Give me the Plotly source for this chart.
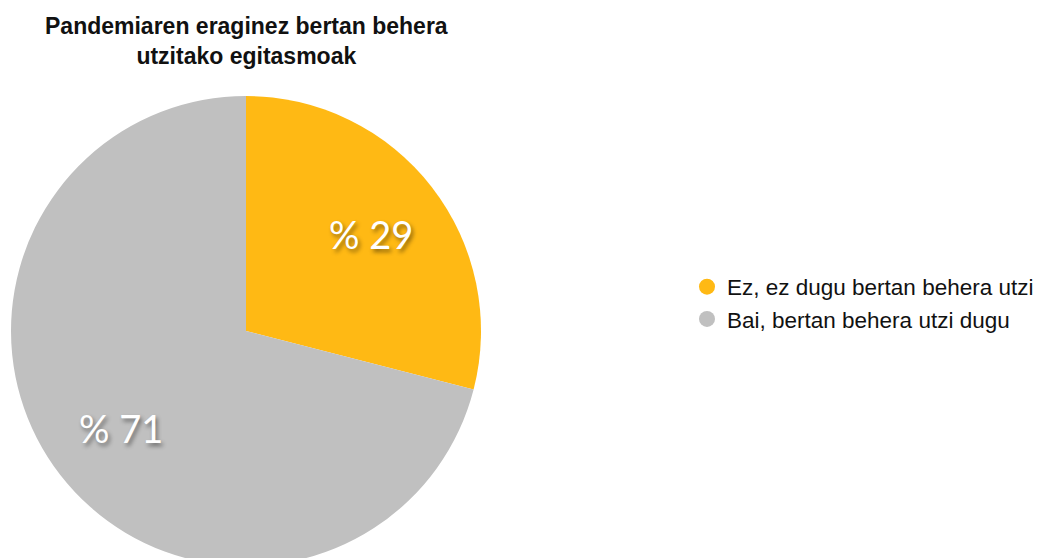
import math
import plotly.graph_objects as go

categories = ["Ez, ez dugu bertan behera utzi", "Bai, bertan behera utzi dugu"]
values = [29, 71]
colors = ["#FFB914", "#C0C0C0"]
title_lines = ["Pandemiaren eraginez bertan behera", "utzitako egitasmoak"]

W, H = 1059, 570
L, R, T, B = 11, 0, 96, 4
plot_w, plot_h = W - L - R, H - T - B
pie_d = 470  # pie diameter in px

fig = go.Figure()
fig.add_trace(go.Pie(
    labels=categories, values=values, sort=False, direction="clockwise", rotation=0,
    marker=dict(colors=colors, line=dict(width=0)),
    textinfo="none",
    domain=dict(x=[0, pie_d / plot_w], y=[0, 1]),
    showlegend=False, hoverinfo="label+percent",
))
for cat, col in zip(categories, colors):
    fig.add_trace(go.Scatter(x=[None], y=[None], mode="markers", name=cat,
                             marker=dict(color=col, size=20, symbol="circle")))

# value labels placed along each slice's mid-angle
annotations = []
total = sum(values)
cum = 0
cx, cy = pie_d / 2 / plot_w, 0.5  # paper coords of the pie centre
for v in values:
    frac = (cum + v / 2) / total
    cum += v
    th = 2 * math.pi * frac
    r_px = 0.675 * pie_d / 2
    annotations.append(dict(
        text=f"% {v}", x=cx + r_px * math.sin(th) / plot_w, y=cy + r_px * math.cos(th) / plot_h,
        xref="paper", yref="paper", showarrow=False, xanchor="center", yanchor="middle",
        font=dict(family="Lato", size=38, color="white", shadow="2px 3px 4px rgba(0,0,0,0.45)"),
    ))
annotations.append(dict(
    text="<br>".join(title_lines), x=cx, y=1, xref="paper", yref="paper",
    xanchor="center", yanchor="bottom", yshift=25, showarrow=False,
    font=dict(family="Liberation Sans", size=23, color="#111", weight=600)))

fig.update_layout(
    width=W, height=H,
    margin=dict(l=L, r=R, t=T, b=B),
    paper_bgcolor="white", plot_bgcolor="white",
    xaxis=dict(visible=False), yaxis=dict(visible=False),
    legend=dict(x=(687 - L) / plot_w, y=1 - (303 - T) / plot_h, xanchor="left", yanchor="middle",
                font=dict(family="Liberation Sans", size=22.5, color="#111"),
                itemsizing="trace", tracegroupgap=0),
    annotations=annotations,
)
fig.write_html("out.html", config={"displayModeBar": False}, post_script=(
    "document.documentElement.style.overflow='hidden';"
    "document.body.style.overflow='hidden';document.body.style.margin='0';"))
